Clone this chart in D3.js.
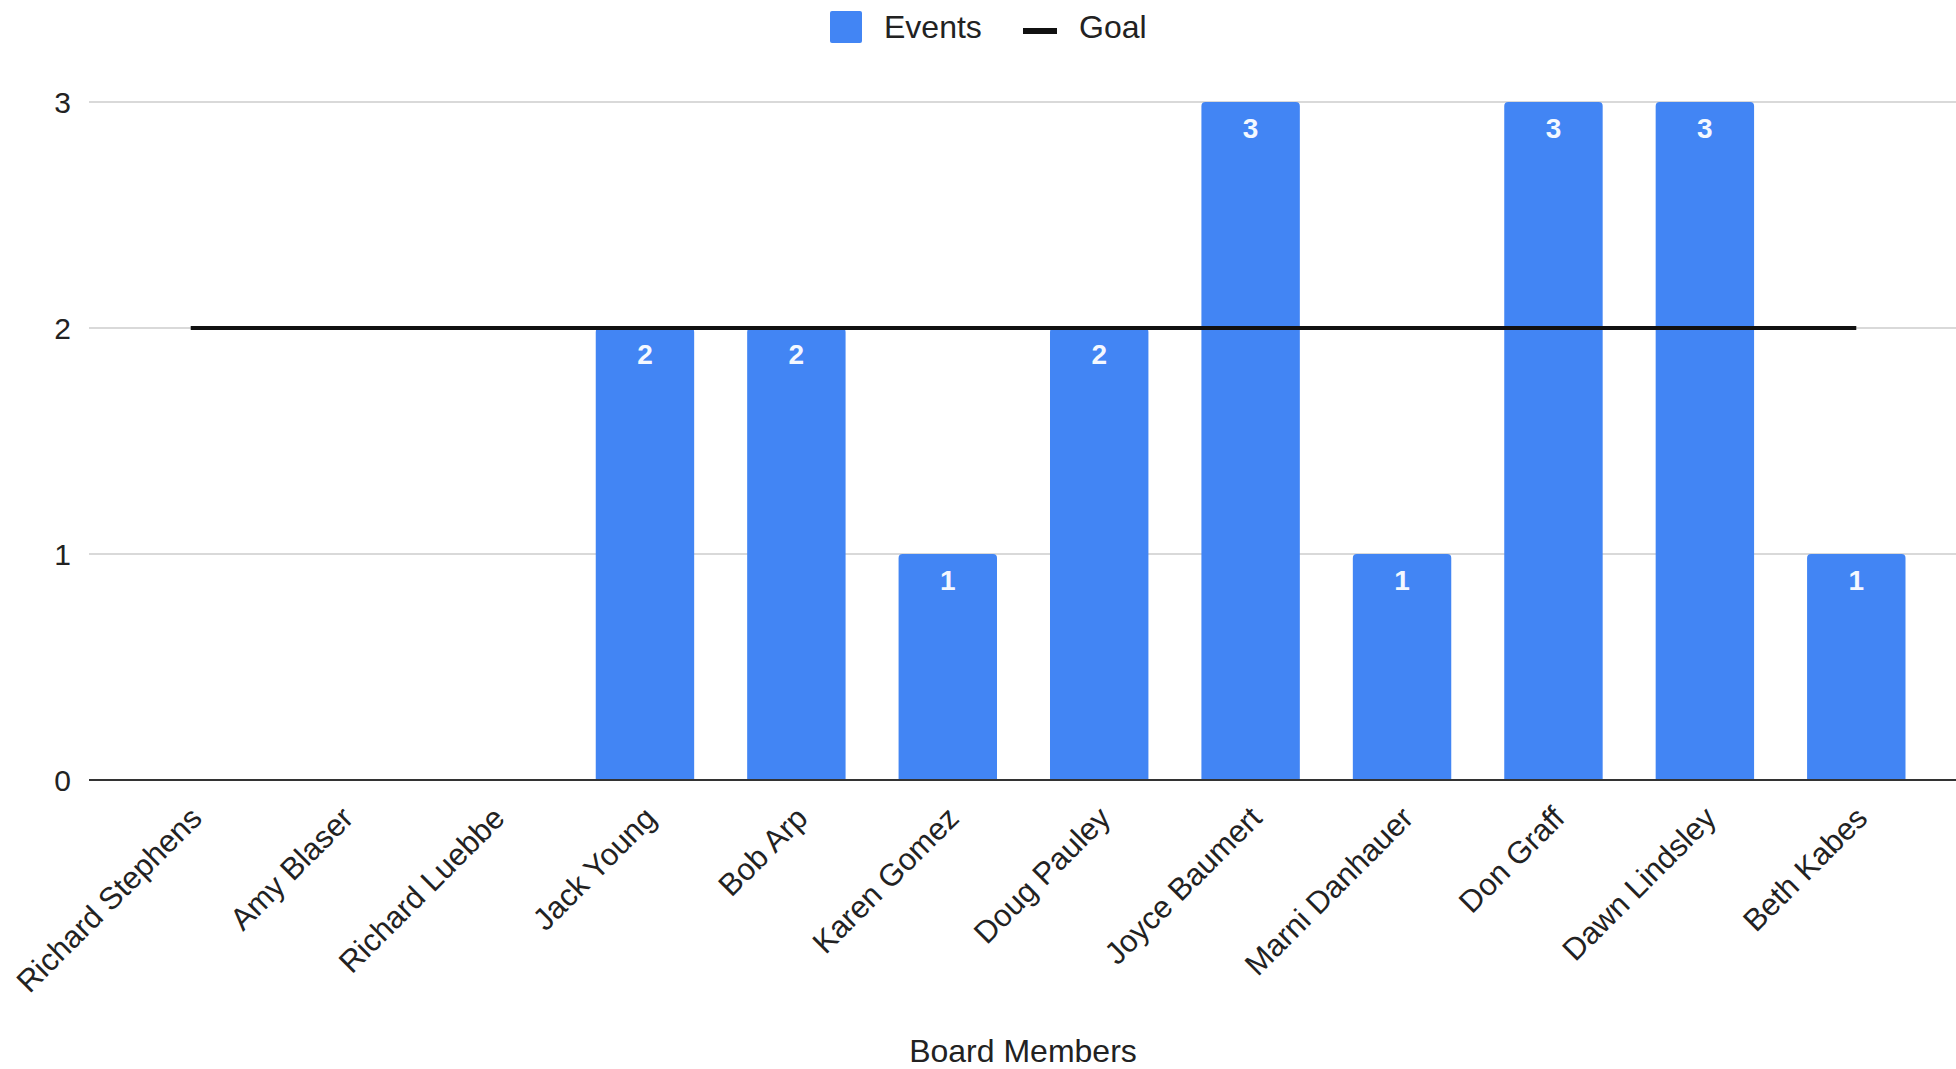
<!DOCTYPE html>
<html>
<head>
<meta charset="utf-8">
<script src="https://cdn.jsdelivr.net/npm/d3@7"></script>
<style>
  html, body { margin: 0; padding: 0; background: #fff; }
  svg { display: block; font-family: "Liberation Sans", Arial, sans-serif; }
</style>
</head>
<body>
<svg id="chart" width="1956" height="1069"></svg>
<script>
const members = ["Richard Stephens", "Amy Blaser", "Richard Luebbe", "Jack Young", "Bob Arp", "Karen Gomez", "Doug Pauley", "Joyce Baumert", "Marni Danhauer", "Don Graff", "Dawn Lindsley", "Beth Kabes"];
const events = [0, 0, 0, 2, 2, 1, 2, 3, 1, 3, 3, 1];
const goal = [2, 2, 2, 2, 2, 2, 2, 2, 2, 2, 2, 2];
const yTicks = [0, 1, 2, 3];
const seriesNames = ["Events", "Goal"];
const xTitle = "Board Members";

const svg = d3.select("#chart");
const W = 1956;
const plotLeft = 89, plotRight = W;

const x = d3.scaleBand().domain(members).range([115, 1932]).paddingInner(0.35).paddingOuter(0.175);
const y = d3.scaleLinear().domain([0, 3]).range([780, 102]);

const blue = "#4285F4";

// gridlines
svg.append("g").selectAll("line").data(yTicks.filter(d => d !== 0)).join("line")
  .attr("x1", plotLeft).attr("x2", plotRight)
  .attr("y1", d => y(d)).attr("y2", d => y(d))
  .attr("stroke", "#cccccc").attr("stroke-width", 1.5);

// y tick labels
svg.append("g").selectAll("text").data(yTicks).join("text")
  .attr("x", 71).attr("y", d => y(d)).attr("dy", "0.35em")
  .attr("text-anchor", "end").attr("font-size", 30).attr("fill", "#222")
  .text(d => d);

// bars with rounded top corners
const r = 4;
const data = members.map((m, i) => ({ name: m, v: events[i], g: goal[i] }));
svg.append("g").selectAll("path").data(data.filter(d => d.v > 0)).join("path")
  .attr("fill", blue)
  .attr("d", d => {
    const x0 = x(d.name), w = x.bandwidth(), yt = y(d.v), yb = y(0);
    return `M${x0},${yb} V${yt + r} Q${x0},${yt} ${x0 + r},${yt} H${x0 + w - r} Q${x0 + w},${yt} ${x0 + w},${yt + r} V${yb} Z`;
  });

// baseline
svg.append("line").attr("x1", plotLeft).attr("x2", plotRight)
  .attr("y1", y(0)).attr("y2", y(0)).attr("stroke", "#333").attr("stroke-width", 2);

// goal line
const line = d3.line().x(d => x(d.name) + x.bandwidth() / 2).y(d => y(d.g));
svg.append("path").datum(data).attr("d", line)
  .attr("fill", "none").attr("stroke", "#111").attr("stroke-width", 4);

// data labels
svg.append("g").selectAll("text").data(data.filter(d => d.v > 0)).join("text")
  .attr("x", d => x(d.name) + x.bandwidth() / 2).attr("y", d => y(d.v) + 36)
  .attr("text-anchor", "middle").attr("font-size", 28).attr("font-weight", "bold")
  .attr("fill", "#f4f8ff").text(d => d.v);

// x labels
svg.append("g").selectAll("text").data(members).join("text")
  .attr("transform", d => `translate(${x(d) + x.bandwidth() / 2 + 13},${820}) rotate(-45)`)
  .attr("text-anchor", "end").attr("font-size", 31).attr("fill", "#222")
  .text(d => d);

// x title
svg.append("text").attr("x", 1023).attr("y", 1062).attr("text-anchor", "middle")
  .attr("font-size", 32).attr("fill", "#222").text(xTitle);

// legend
const lg = svg.append("g");
lg.append("rect").attr("x", 830).attr("y", 11).attr("width", 32).attr("height", 32).attr("rx", 2).attr("fill", blue);
lg.append("text").attr("x", 884).attr("y", 38).attr("font-size", 32).attr("fill", "#222").text(seriesNames[0]);
lg.append("line").attr("x1", 1023).attr("x2", 1057).attr("y1", 31).attr("y2", 31).attr("stroke", "#111").attr("stroke-width", 6);
lg.append("text").attr("x", 1079).attr("y", 38).attr("font-size", 32).attr("fill", "#222").text(seriesNames[1]);
</script>
</body>
</html>
